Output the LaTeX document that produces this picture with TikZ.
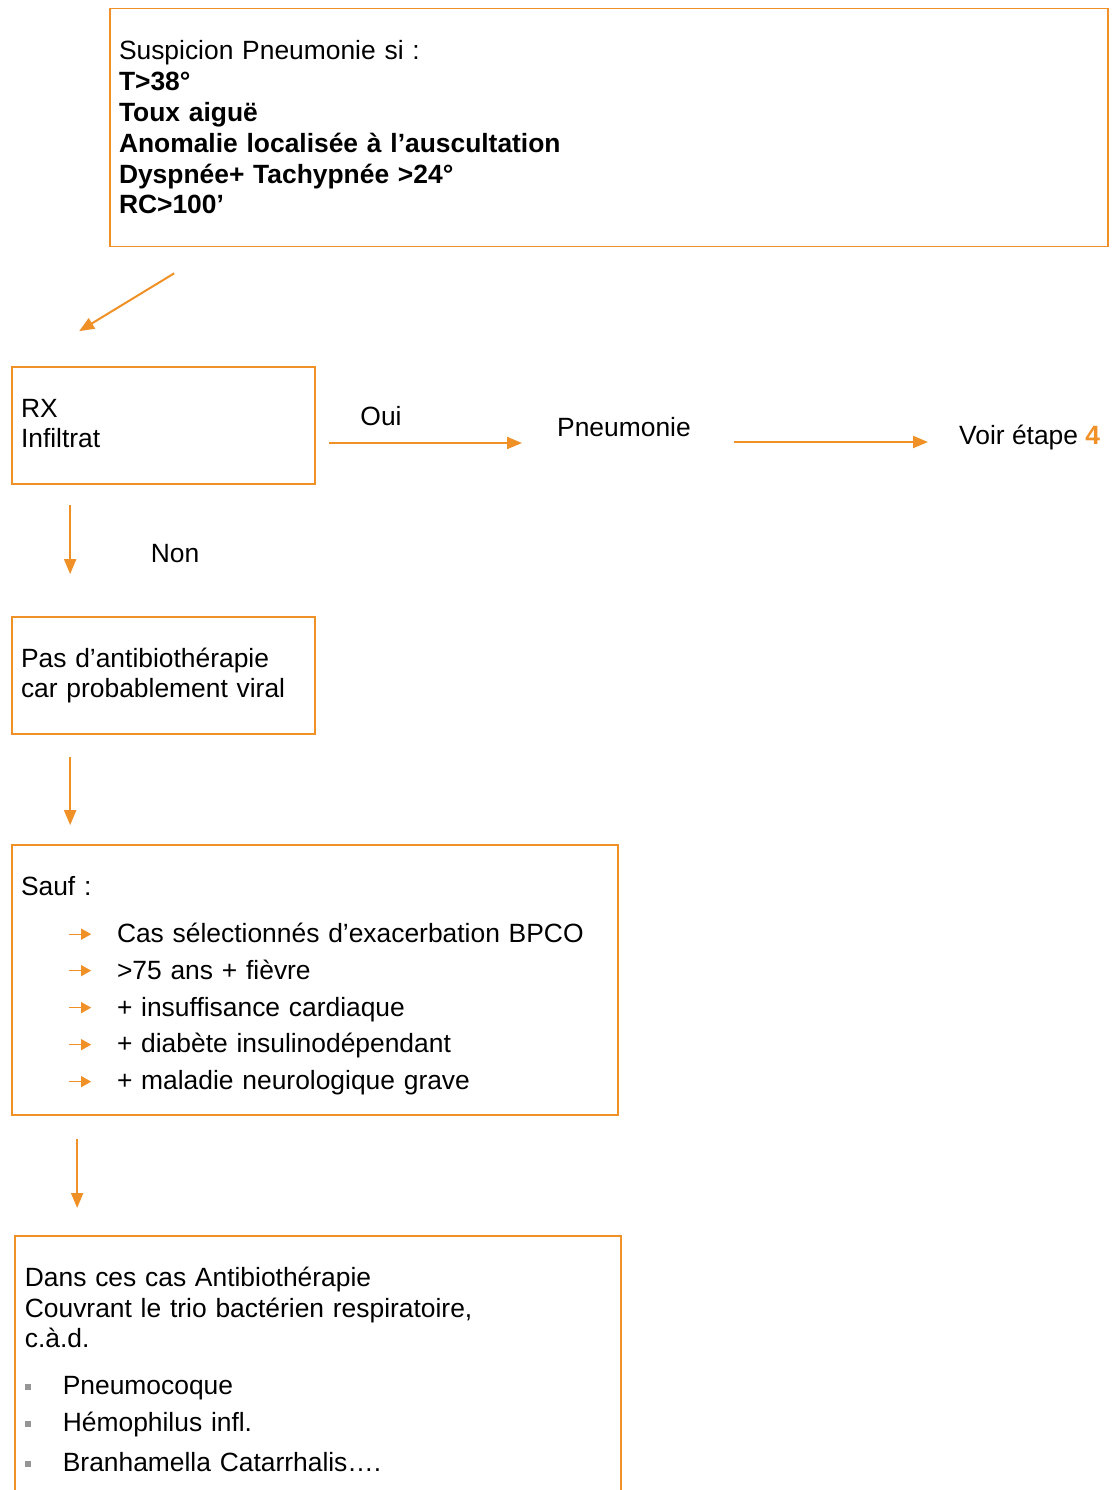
\documentclass[tikz,border=0pt]{standalone}
\usepackage{fontspec}
\setmainfont{Liberation Sans}
\usetikzlibrary{arrows.meta,calc}
\definecolor{org}{RGB}{240,145,40}
\definecolor{bulgray}{RGB}{150,150,150}
\newcommand\arrindent{\makebox[96pt][l]{}}
\newcommand\sqitem{\makebox[38pt][l]{\textcolor{bulgray}{\rule[4.5pt]{6pt}{6pt}}}}
\begin{document}
\begin{tikzpicture}[x=1pt,y=-1pt,
  every node/.style={font=\fontsize{26.4pt}{30.8pt}\selectfont},
  box/.style={draw=org, line width=1.7pt, inner xsep=9pt, inner ysep=0pt, align=left},
  arr/.style={draw=org, line width=2pt, -{Triangle[length=15pt,width=12pt]}},
  bularr/.style={draw=org, line width=1.3pt, -{Triangle[length=10pt,width=11pt]}},
  lbl/.style={inner sep=0pt, anchor=base west}]
\useasboundingbox (0,0) rectangle (1112,1490);
\clip (0,0) rectangle (1112,1490);

\node[box, minimum width=998pt, minimum height=238pt, text width=980pt] (top) at (609,127.5)
 {Suspicion Pneumonie si :\\
  \textbf{T>38°}\\
  \textbf{Toux aiguë}\\
  \textbf{Anomalie localisée à l’auscultation}\\
  \textbf{Dyspnée+ Tachypnée >24°}\\
  \textbf{RC>100’}};

\node[box, minimum width=303pt, minimum height=117pt, text width=285pt] (rx) at (163.5,425.5)
 {RX\\Infiltrat\rule[-4pt]{0pt}{0pt}};

\node[lbl] (pneu) at (557,436.5) {Pneumonie};
\node[lbl] (voir) at (959,444.5) {Voir étape \textcolor{org}{\textbf{4}}};
\node[inner sep=0pt, anchor=base] (oui) at (381,425.5) {Oui};
\node[inner sep=0pt, anchor=base] (non) at (175,562.5) {Non};

\node[box, minimum width=303pt, minimum height=117pt, text width=285pt] (pas) at (163.5,675.5)
 {Pas d’antibiothérapie\\car probablement viral};

\node[box, minimum width=606pt, minimum height=270pt, text width=588pt] (sauf) at (315,980)
 {\rule{0pt}{31pt}Sauf :\\[16pt]
  \arrindent Cas sélectionnés d’exacerbation BPCO\\[6pt]
  \arrindent >75 ans + fièvre\\[6pt]
  \arrindent + insuffisance cardiaque\\[6pt]
  \arrindent + diabète insulinodépendant\\[6pt]
  \arrindent + maladie neurologique grave};

\foreach \dy in {90,126.5,163.5,200.5,237.5}
  \draw[bularr] ($(sauf.north west)+(58,\dy)$) -- ++(22,0);

\node[box, anchor=north west, minimum width=606pt, text width=586pt, inner xsep=10pt, inner ysep=31pt] (bot) at (14,1235)
 {Dans ces cas Antibiothérapie\\
  Couvrant le trio bactérien respiratoire,\\
  c.à.d.\\[16pt]
  \sqitem Pneumocoque\\[6pt]
  \sqitem Hémophilus infl.\\[9pt]
  \sqitem Branhamella Catarrhalis….};

\draw[arr] ($(top.south west)+(65,26)$) -- ($(rx.north west)+(68,-35)$);
\draw[arr, shorten >=35pt] ($(rx.east)+(13,17.5)$) coordinate (o1) -- (o1 -| pneu.west);
\draw[arr, shorten >=31pt] ($(pneu.base west)+(177,5.5)$) coordinate (o2) -- (o2 -| voir.west);
\draw[arr, shorten >=42pt] ($(rx.south west)+(59,20)$) coordinate (d1) -- (d1 |- pas.north);
\draw[arr, shorten >=19pt] ($(pas.south west)+(59,22)$) coordinate (d2) -- (d2 |- sauf.north);
\draw[arr, shorten >=27pt] ($(sauf.south west)+(66,23)$) coordinate (d3) -- (d3 |- bot.north);
\end{tikzpicture}
\end{document}
